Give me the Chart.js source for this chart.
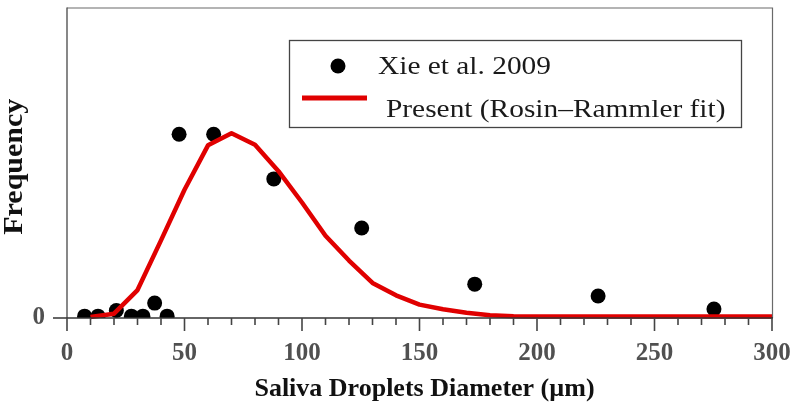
<!DOCTYPE html>
<html>
<head>
<meta charset="utf-8">
<script src="https://cdn.jsdelivr.net/npm/chart.js@4/dist/chart.umd.min.js"></script>
<style>
html,body{margin:0;padding:0;background:#fff;}
#wrap{width:793px;height:406px;position:relative;}
</style>
</head>
<body>
<div id="wrap"><canvas id="c" width="793" height="406"></canvas></div>
<script>
// ---- data ----
const xieDiameters = [7.5, 13.2, 21.0, 27.4, 32.3, 37.3, 42.6, 47.7, 62.4, 88.0, 125.4, 173.5, 226.0, 275.3];
const xieFrequency = [0.006, 0.006, 0.024, 0.006, 0.006, 0.048, 0.006, 0.592, 0.592, 0.448, 0.29, 0.109, 0.071, 0.029];

const fitDiameters = [10, 20, 30, 40, 50, 60, 70, 80, 90, 100, 110, 120, 130, 140, 150, 160, 170, 180, 190, 200,
                      210, 220, 230, 240, 250, 260, 270, 280, 290, 300];
const fitFrequency = [0.003, 0.014, 0.09, 0.25, 0.413, 0.556, 0.595, 0.558, 0.473, 0.372, 0.265, 0.185, 0.113, 0.073, 0.043, 0.028, 0.017, 0.009, 0.006, 0.005,
                      0.005, 0.005, 0.005, 0.005, 0.005, 0.005, 0.005, 0.005, 0.005, 0.005];

const xTickLabels = [0, 50, 100, 150, 200, 250, 300];
const yTickLabels = [0];

const seriesNames = ['Xie et al. 2009', 'Present (Rosin\u2013Rammler fit)'];
const xTitle = 'Saliva Droplets Diameter (\u00b5m)';
const yTitle = 'Frequency';

const RED = 'rgb(224,0,0)';
const SERIF = '"Liberation Serif", "Times New Roman", serif';

const framePlugin = {
  id: 'frame',
  afterDatasetsDraw(chart) {
    const {ctx, chartArea: a, scales: {x, y}} = chart;
    ctx.save();
    // top & right frame
    ctx.strokeStyle = '#6a6a6a';
    ctx.lineWidth = 1.2;
    ctx.beginPath();
    ctx.moveTo(a.left, a.top + 0.5); ctx.lineTo(a.right + 0.5, a.top + 0.5); ctx.lineTo(a.right + 0.5, a.bottom);
    ctx.stroke();
    // left axis
    ctx.strokeStyle = '#555';
    ctx.lineWidth = 1.4;
    ctx.beginPath();
    ctx.moveTo(a.left, a.top); ctx.lineTo(a.left, a.bottom);
    ctx.stroke();
    // bottom axis
    ctx.strokeStyle = '#333';
    ctx.lineWidth = 1.6;
    ctx.beginPath();
    ctx.moveTo(a.left - 14, a.bottom); ctx.lineTo(a.right + 1, a.bottom);
    ctx.stroke();
    // x ticks
    ctx.strokeStyle = '#444';
    ctx.lineWidth = 1.6;
    for (let v = x.min; v <= x.max; v += 10) {
      const px = x.getPixelForValue(v);
      const len = (v % 50 === 0) ? 13 : 7;
      ctx.beginPath();
      ctx.moveTo(px, a.bottom); ctx.lineTo(px, a.bottom + len);
      ctx.stroke();
    }
    ctx.restore();
  },
  afterDraw(chart) {
    const {ctx, chartArea: a} = chart;
    ctx.save();
    // axis titles
    ctx.fillStyle = '#111';
    ctx.font = 'bold 26px ' + SERIF;
    ctx.textAlign = 'center';
    ctx.textBaseline = 'alphabetic';
    ctx.fillText(xTitle, (a.left + a.right) / 2 + 5, 396);
    ctx.save();
    ctx.translate(22, (a.top + a.bottom) / 2 + 4);
    ctx.rotate(-Math.PI / 2);
    ctx.scale(1.11, 1);
    ctx.font = 'bold 27px ' + SERIF;
    ctx.fillText(yTitle, 0, 0);
    ctx.restore();

    // legend
    const bx = 289, by = 40, bw = 452, bh = 87;
    ctx.strokeStyle = '#444';
    ctx.lineWidth = 1.3;
    ctx.strokeRect(bx + 0.5, by + 0.5, bw, bh);
    const ds0 = chart.data.datasets[0], ds1 = chart.data.datasets[1];
    ctx.fillStyle = ds0.backgroundColor;
    ctx.beginPath();
    ctx.arc(338, 66, 7.5, 0, Math.PI * 2);
    ctx.fill();
    ctx.strokeStyle = ds1.borderColor;
    ctx.lineWidth = 5;
    ctx.beginPath();
    ctx.moveTo(302, 98); ctx.lineTo(367, 98);
    ctx.stroke();
    ctx.fillStyle = '#1a1a1a';
    ctx.font = '26px ' + SERIF;
    ctx.textAlign = 'left';
    ctx.save(); ctx.translate(378, 74); ctx.scale(1.13, 1); ctx.fillText(ds0.label, 0, 0); ctx.restore();
    ctx.save(); ctx.translate(386, 117); ctx.scale(1.13, 1); ctx.fillText(ds1.label, 0, 0); ctx.restore();
    ctx.restore();
  }
};

new Chart(document.getElementById('c'), {
  type: 'scatter',
  data: {
    datasets: [
      {
        label: seriesNames[0],
        data: xieDiameters.map((d, i) => ({x: d, y: xieFrequency[i]})),
        backgroundColor: '#000',
        borderColor: '#000',
        pointRadius: 7.5,
        pointHoverRadius: 7.5,
        borderWidth: 0,
        showLine: false,
        order: 2,
        clip: {left: 20, top: 20, right: 20, bottom: 0}
      },
      {
        label: seriesNames[1],
        data: fitDiameters.map((d, i) => ({x: d, y: fitFrequency[i]})),
        borderColor: RED,
        backgroundColor: RED,
        borderWidth: 4.5,
        pointRadius: 0,
        showLine: true,
        tension: 0,
        borderJoinStyle: 'round',
        order: 1,
        clip: {left: 5, top: 5, right: 0, bottom: 3}
      }
    ]
  },
  options: {
    responsive: false,
    animation: false,
    devicePixelRatio: 1,
    layout: {padding: {top: 3, right: 21, left: 0, bottom: 0}},
    plugins: {legend: {display: false}, tooltip: {enabled: false}},
    scales: {
      x: {
        type: 'linear', min: 0, max: 300,
        grid: {display: false, drawTicks: false},
        border: {display: false},
        ticks: {
          stepSize: 10, autoSkip: false, maxRotation: 0, padding: 21,
          color: '#505050',
          font: {family: SERIF, size: 25, weight: 'bold'},
          callback: (v) => xTickLabels.includes(v) ? String(v) : ''
        },
        afterFit: (s) => { s.height = 88; s.paddingLeft = 0; s.paddingRight = 0; s.paddingTop = 0; s.paddingBottom = 0; }
      },
      y: {
        type: 'linear', min: 0, max: 1,
        grid: {display: false, drawTicks: false},
        border: {display: false},
        ticks: {
          stepSize: 1, padding: 22,
          color: '#505050',
          font: {family: SERIF, size: 25, weight: 'bold'},
          callback: (v) => yTickLabels.includes(v) ? String(v) : ''
        },
        afterFit: (s) => { s.width = 67; s.paddingLeft = 0; s.paddingRight = 0; s.paddingTop = 0; s.paddingBottom = 0; }
      }
    }
  },
  plugins: [framePlugin]
});
</script>
</body>
</html>
